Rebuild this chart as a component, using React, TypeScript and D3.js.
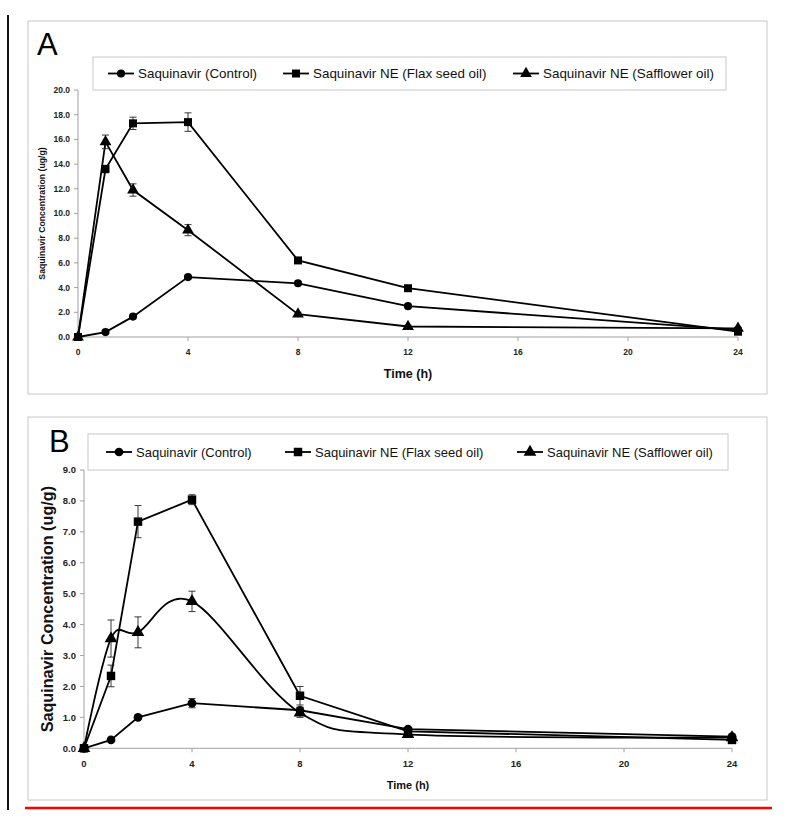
import React from "react";
import * as d3 from "d3";

const times = [0, 1, 2, 4, 8, 12, 24];
const xTicks = [0, 4, 8, 12, 16, 20, 24];
const seriesNames = ["Saquinavir (Control)", "Saquinavir NE (Flax seed oil)", "Saquinavir NE (Safflower oil)"];

// Panel A
const aControl = [0, 0.4, 1.65, 4.85, 4.35, 2.5, 0.57];
const aControlErr = [0, 0.05, 0.1, 0.1, 0.1, 0.1, 0.05];
const aFlax = [0, 13.6, 17.3, 17.4, 6.2, 3.95, 0.43];
const aFlaxErr = [0, 0.3, 0.5, 0.75, 0.2, 0.15, 0.1];
const aSaff = [0, 15.8, 11.9, 8.65, 1.85, 0.85, 0.7];
const aSaffErr = [0, 0.55, 0.5, 0.45, 0.15, 0.1, 0.1];
const aYTicks = [0, 2, 4, 6, 8, 10, 12, 14, 16, 18, 20];

// Panel B
const bControl = [0, 0.27, 1.0, 1.46, 1.23, 0.62, 0.38];
const bControlErr = [0, 0.03, 0.06, 0.15, 0.1, 0.05, 0.03];
const bFlax = [0, 2.34, 7.33, 8.04, 1.7, 0.55, 0.27];
const bFlaxErr = [0, 0.35, 0.52, 0.16, 0.3, 0.05, 0.03];
const bSaff = [0, 3.55, 3.75, 4.75, 1.15, 0.45, 0.35];
const bSaffErr = [0, 0.6, 0.5, 0.33, 0.15, 0.05, 0.03];
const bYTicks = [0, 1, 2, 3, 4, 5, 6, 7, 8, 9];

const FONT = "'Liberation Sans', Arial, sans-serif";
const symbols = [d3.symbolCircle, d3.symbolSquare, d3.symbolTriangle];

type PanelCfg = {
  letter: string;
  frame: [number, number, number, number];
  letterPos: [number, number];
  legend: [number, number, number, number];
  legendItems: number[];
  legendFont: number;
  xRange: [number, number];
  yRange: [number, number];
  yMax: number;
  yTicks: number[];
  tickFont: number;
  yTitleFont: number;
  yTitleX: number;
  xTitleFont: number;
  xTitleY: number;
  xTickY: number;
  series: number[][];
  errs: number[][];
  smooth: boolean[];
  markerSizes: number[];
};

function Panel({ c }: { c: PanelCfg }) {
  const x = d3.scaleLinear().domain([0, 24]).range(c.xRange);
  const y = d3.scaleLinear().domain([0, c.yMax]).range(c.yRange);
  const [fx, fy, fw, fh] = c.frame;
  const [lx, ly, lw, lh] = c.legend;
  const axisColor = "#a0a0a0";
  return (
    <g>
      <rect x={fx} y={fy} width={fw} height={fh} fill="white" stroke="#c8c8c8" strokeWidth={1} />
      <text x={c.letterPos[0]} y={c.letterPos[1]} fontFamily={FONT} fontSize={31}>{c.letter}</text>
      <line x1={c.xRange[0]} x2={c.xRange[0]} y1={c.yRange[0]} y2={c.yRange[1]} stroke={axisColor} strokeWidth={1} />
      <line x1={c.xRange[0]} x2={c.xRange[1]} y1={c.yRange[0]} y2={c.yRange[0]} stroke={axisColor} strokeWidth={1} />
      {c.yTicks.map((t) => (
        <g key={"y" + t}>
          <line x1={c.xRange[0] - 4} x2={c.xRange[0]} y1={y(t)} y2={y(t)} stroke={axisColor} />
          <text x={c.xRange[0] - 8} y={y(t)} dy="0.35em" textAnchor="end" fontFamily={FONT} fontWeight="bold" fontSize={c.tickFont} fill="#222">
            {t.toFixed(1)}
          </text>
        </g>
      ))}
      {xTicks.map((t) => (
        <g key={"x" + t}>
          <line x1={x(t)} x2={x(t)} y1={c.yRange[0]} y2={c.yRange[0] + 4} stroke={axisColor} />
          <text x={x(t)} y={c.xTickY} dy="0.35em" textAnchor="middle" fontFamily={FONT} fontWeight="bold" fontSize={c.tickFont} fill="#222">
            {t}
          </text>
        </g>
      ))}
      <text
        transform={`translate(${c.yTitleX},${(c.yRange[0] + c.yRange[1]) / 2}) rotate(-90)`}
        textAnchor="middle"
        dy="0.35em"
        fontFamily={FONT}
        fontWeight="bold"
        fontSize={c.yTitleFont}
        fill="#111"
      >
        Saquinavir Concentration (ug/g)
      </text>
      <text x={(c.xRange[0] + c.xRange[1]) / 2} y={c.xTitleY} textAnchor="middle" fontFamily={FONT} fontWeight="bold" fontSize={c.xTitleFont} fill="#111">
        Time (h)
      </text>
      {c.series.map((vals, si) => {
        const pts: [number, number][] = vals.map((v, i) => [x(times[i]), y(v)]);
        const line = d3.line().curve(c.smooth[si] ? d3.curveCatmullRom.alpha(0) : d3.curveLinear);
        const sym = d3.symbol().type(symbols[si]).size(c.markerSizes[si]);
        return (
          <g key={"s" + si}>
            <path d={line(pts) || ""} fill="none" stroke="black" strokeWidth={1.8} />
            {vals.map((v, i) => {
              const e = c.errs[si][i];
              if (!e) return null;
              const cx = x(times[i]);
              return (
                <g key={"e" + i} stroke="#222" strokeWidth={0.9}>
                  <line x1={cx} x2={cx} y1={y(v - e)} y2={y(v + e)} />
                  <line x1={cx - 3.5} x2={cx + 3.5} y1={y(v + e)} y2={y(v + e)} />
                  <line x1={cx - 3.5} x2={cx + 3.5} y1={y(v - e)} y2={y(v - e)} />
                </g>
              );
            })}
            {pts.map((p, i) => (
              <path key={"m" + i} d={sym() || ""} transform={`translate(${p[0]},${p[1]})`} fill="black" />
            ))}
          </g>
        );
      })}
      <rect x={lx} y={ly} width={lw} height={lh} fill="white" stroke="#c8c8c8" />
      {seriesNames.map((name, si) => {
        const sx = c.legendItems[si];
        const cy = ly + lh / 2;
        const sym = d3.symbol().type(symbols[si]).size(c.markerSizes[si]);
        return (
          <g key={"l" + si}>
            <line x1={sx} x2={sx + 26} y1={cy} y2={cy} stroke="black" strokeWidth={1.8} />
            <path d={sym() || ""} transform={`translate(${sx + 13},${cy})`} fill="black" />
            <text x={sx + 30} y={cy} dy="0.35em" fontFamily={FONT} fontSize={c.legendFont} fill="#111">{name}</text>
          </g>
        );
      })}
    </g>
  );
}

const panelA: PanelCfg = {
  letter: "A",
  frame: [28, 21, 739, 373],
  letterPos: [37, 55],
  legend: [93, 57, 633, 33],
  legendItems: [108, 283, 513],
  legendFont: 13.4,
  xRange: [78, 738],
  yRange: [337, 90],
  yMax: 20,
  yTicks: aYTicks,
  tickFont: 8.5,
  yTitleFont: 8.7,
  yTitleX: 42,
  xTitleFont: 12.5,
  xTitleY: 378,
  xTickY: 352,
  series: [aControl, aFlax, aSaff],
  errs: [aControlErr, aFlaxErr, aSaffErr],
  smooth: [false, false, false],
  markerSizes: [52, 64, 60],
};

const panelB: PanelCfg = {
  letter: "B",
  frame: [28, 417, 739, 383],
  letterPos: [49, 452],
  legend: [88, 434, 640, 36],
  legendItems: [106, 285, 517],
  legendFont: 13,
  xRange: [84, 732],
  yRange: [748.3, 470],
  yMax: 9,
  yTicks: bYTicks,
  tickFont: 9.5,
  yTitleFont: 16.2,
  yTitleX: 47,
  xTitleFont: 11,
  xTitleY: 789,
  xTickY: 764,
  series: [bControl, bFlax, bSaff],
  errs: [bControlErr, bFlaxErr, bSaffErr],
  smooth: [false, false, true],
  markerSizes: [60, 72, 70],
};

export default function App() {
  return (
    <svg width={800} height={827} style={{ position: "absolute", left: 0, top: 0, background: "white" }}>
      <rect x={0} y={0} width={800} height={827} fill="white" />
      <line x1={8} x2={8} y1={15} y2={810} stroke="#111" strokeWidth={2} />
      <Panel c={panelA} />
      <Panel c={panelB} />
      <line x1={25} x2={772} y1={808} y2={808} stroke="#ff0000" strokeWidth={2.5} />
    </svg>
  );
}
